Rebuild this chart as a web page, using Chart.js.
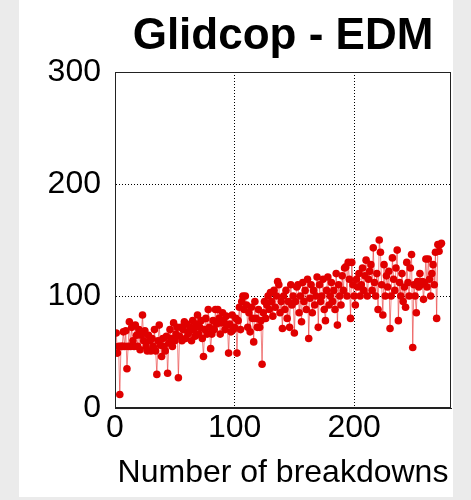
<!DOCTYPE html>
<html>
<head>
<meta charset="utf-8">
<script src="https://cdn.jsdelivr.net/npm/chart.js@4"></script>
<style>
  html, body { margin: 0; padding: 0; background: #ebebeb; }
  #wrap { width: 471px; height: 500px; }
</style>
</head>
<body>
<div id="wrap"><canvas id="edmChart" width="471" height="500"></canvas></div>
<script>
// breakdown field (MV/m) per breakdown number 1..273
const fieldA = [67, 49, 55, 12, 55, 55, 68, 55, 69, 35,
  55, 77, 55, 72, 60, 55, 74, 65, 55, 70,
  52, 65, 83, 60, 69, 55, 51, 65, 60, 51,
  62, 55, 70, 51, 30, 60, 74, 56, 46, 62,
  55, 51, 64, 31, 58, 70, 62, 55, 76, 60,
  66, 72, 27, 64, 72, 60, 70, 77, 62, 75];
const fieldB = [66, 68, 72, 60, 78, 70, 64, 75, 83, 66,
  72, 78, 62, 46, 70, 80, 66, 88, 72, 53,
  66, 78, 70, 88, 75, 88, 80, 66, 76, 85,
  78, 70, 82, 74, 49, 75, 68, 83, 70, 72,
  80, 49, 78, 90, 70, 95, 100, 88, 100, 92,
  72, 85, 68, 90, 80, 59, 95, 80, 72, 88];
const fieldC = [72, 78, 39, 85, 95, 80, 92, 100, 88, 103,
  95, 82, 105, 90, 100, 113, 110, 85, 95, 71,
  100, 88, 105, 80, 95, 72, 110, 92, 100, 67,
  95, 108, 110, 85, 100, 77, 112, 95, 105, 88,
  115, 62, 98, 110, 85, 105, 92, 100, 117, 72,
  110, 95, 100, 115, 88, 78, 105, 117, 92, 100];
const fieldD = [112, 95, 105, 88, 120, 74, 110, 100, 92, 118,
  105, 125, 126, 100, 130, 115, 80, 130, 110, 100,
  92, 115, 108, 120, 100, 110, 125, 105, 118, 132,
  100, 115, 122, 128, 105, 143, 112, 100, 120, 88,
  150, 139, 110, 83, 128, 100, 118, 108, 122, 71,
  100, 134, 115, 105, 125, 141, 78, 112, 100, 120];
const fieldE = [95, 108, 90, 130, 112, 100, 125, 137, 54, 110,
  100, 85, 113, 108, 120, 110, 113, 97, 112, 133,
  108, 133, 115, 100, 120, 128, 110, 139, 80, 146,
  140, 146, 147];

const fieldValues = [...fieldA, ...fieldB, ...fieldC, ...fieldD, ...fieldE];
const yTicks = [0, 100, 200, 300];
const xTicks = [0, 100, 200];

const points = fieldValues.map((v, i) => ({ x: i + 1, y: v }));

const fontFam = "'Liberation Sans', Arial, sans-serif";

const panelBg = {
  id: 'panelBg',
  beforeDraw(chart) {
    const c = chart.ctx;
    c.save();
    c.fillStyle = '#ebebeb';
    c.fillRect(0, 0, chart.width, chart.height);
    c.fillStyle = '#ffffff';
    c.fillRect(19, 0, 434, 497);
    c.restore();
  },
  afterDatasetsDraw(chart) {
    const a = chart.chartArea;
    const c = chart.ctx;
    c.save();
    c.strokeStyle = '#222';
    c.lineWidth = 1;
    c.strokeRect(a.left + 0.5, a.top + 0.5, a.right - a.left - 1, a.bottom - a.top - 1);
    c.restore();
  }
};

new Chart(document.getElementById('edmChart').getContext('2d'), {
  type: 'line',
  data: {
    datasets: [{
      data: points,
      borderColor: 'rgba(232, 50, 50, 0.6)',
      borderWidth: 1,
      pointBackgroundColor: '#e00000',
      pointBorderColor: '#e00000',
      pointRadius: 3.8,
      pointBorderWidth: 0,
      tension: 0,
      fill: false
    }]
  },
  plugins: [panelBg],
  options: {
    responsive: false,
    animation: false,
    layout: { padding: { left: 19, right: 20, top: 0, bottom: 0 } },
    plugins: {
      legend: { display: false },
      tooltip: { enabled: false },
      title: {
        display: true,
        text: 'Glidcop - EDM',
        fullSize: false,
        color: '#000',
        font: { family: fontFam, size: 44, weight: 'bold', lineHeight: 1 },
        padding: { top: 15, bottom: 13 }
      }
    },
    scales: {
      x: {
        type: 'linear',
        min: 0,
        max: 281,
        afterBuildTicks: s => { s.ticks = xTicks.map(v => ({ value: v })); },
        afterFit: s => { s.height = 92; },
        ticks: {
          color: '#000',
          padding: 4,
          font: { family: fontFam, size: 32, lineHeight: 1 }
        },
        grid: {
          color: '#000',
          lineWidth: 1,
          drawTicks: false
        },
        border: { display: true, color: '#222', dash: [1, 2] },
        title: {
          display: true,
          text: 'Number of breakdowns',
          color: '#000',
          font: { family: fontFam, size: 32, lineHeight: 1 },
          padding: { top: 8, bottom: 11 }
        }
      },
      y: {
        min: 0,
        max: 300,
        afterBuildTicks: s => { s.ticks = yTicks.map(v => ({ value: v })); },
        afterFit: s => { s.width = 96; },
        ticks: {
          color: '#000',
          padding: 14,
          font: { family: fontFam, size: 32, lineHeight: 1 }
        },
        grid: {
          color: '#000',
          lineWidth: 1,
          drawTicks: false
        },
        border: { display: true, color: '#222', dash: [1, 2] }
      }
    }
  }
});
</script>
</body>
</html>
